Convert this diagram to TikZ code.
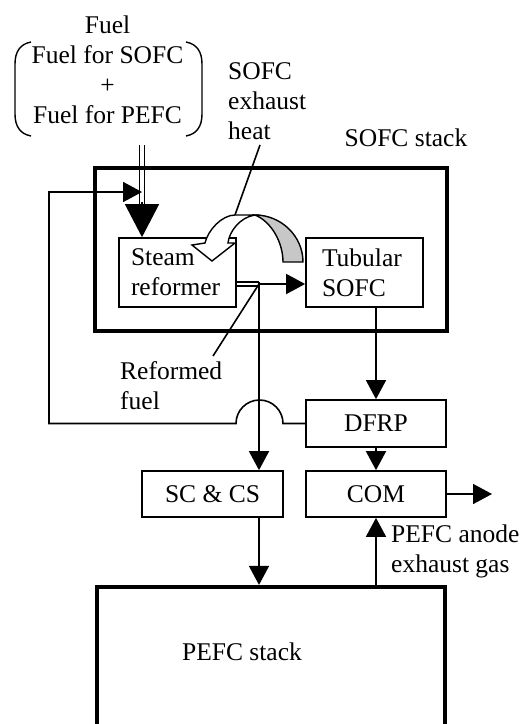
\documentclass[tikz,border=0pt]{standalone}
\usepackage{fontspec}
\setmainfont{Liberation Serif}
\usetikzlibrary{arrows.meta}
\begin{document}
\begin{tikzpicture}[x=1pt,y=1pt,
  every node/.style={font=\fontsize{25.5}{30}\selectfont, inner sep=0pt},
  ln/.style={line width=1.6pt},
  box/.style={draw, line width=1.7pt, rectangle, inner sep=0pt},
  stackbox/.style={draw, line width=4.2pt, rectangle, inner sep=0pt},
  arr/.style={line width=1.6pt, -{Triangle[length=19pt,width=20pt]}},
  bigarr/.style={line width=1.6pt, -{Triangle[length=33pt,width=34pt]}},
]
\useasboundingbox (0,0) rectangle (523,-724);

% fuel inlet (double line), drawn first
\coordinate (fueltop) at (142,-145);
\coordinate (fuelmid) at (142,-204);
\draw[ln] ([xshift=-2.6pt]fueltop) -- ([xshift=-2.6pt]fuelmid);
\draw[ln] ([xshift=2.6pt]fueltop) -- ([xshift=2.6pt]fuelmid);

% stacks
\node[stackbox, minimum width=352pt, minimum height=163pt] (sofcstack) at (271,-249.5) {};
\node[stackbox, minimum width=348pt, minimum height=156pt] (pefcstack) at (271,-665) {};

% component boxes
\node[box, minimum width=117pt, minimum height=69pt, text width=93pt, align=left, inner xsep=12pt] (sr) at (177.5,-272.5) {Steam\\reformer};
\node[box, minimum width=117pt, minimum height=69pt, text width=85pt, align=left, inner xsep=16pt] (ts) at (364.5,-272.5) {Tubular\\SOFC};
\node[box, minimum width=140pt, minimum height=47pt] (dfrp) at (376,-423.5) {DFRP};
\node[box, minimum width=140pt, minimum height=46pt] (com) at (376,-494) {COM};
\node[box, minimum width=141pt, minimum height=46pt] (scs) at (212.5,-494) {SC \& CS};

% labels
\node[align=center] (fuel) at (107.5,-70) {Fuel\\Fuel for SOFC\\+\\Fuel for PEFC};
\node[align=left, anchor=west] (heat) at (228,-101) {SOFC\\exhaust\\heat};
\node (sofclabel) at (406,-138) {SOFC stack};
\node[align=left, anchor=west] (reflabel) at (120,-386) {Reformed\\fuel};
\node[align=left, anchor=west] (anodelabel) at (391,-551) {PEFC anode\\exhaust gas};
\node (pefclabel) at (242,-652) {PEFC stack};

% parentheses around fuel
\draw[line width=1.4pt] (31,-42) .. controls (20,-44) and (15,-52) .. (15,-64) -- (15,-114) .. controls (15,-126) and (20,-134) .. (31,-136);
\draw[line width=1.4pt] (186,-42) .. controls (197,-44) and (202,-52) .. (202,-64) -- (202,-114) .. controls (202,-126) and (197,-134) .. (186,-136);

% fuel arrow into steam reformer
\draw[bigarr] ([yshift=2pt]fuelmid) -- (sr.north -| fueltop);

% reformed fuel
\coordinate (rf) at (259,-284);
\draw[ln] (sr.east |- 0,-282) -- (259,-282);
\draw[ln] (sr.east |- 0,-286) -- (259,-286);
\draw[arr] (rf) -- (ts.west |- rf);
\draw[arr] ([yshift=2pt]rf) -- (rf |- scs.north);
\coordinate (rflead) at (213,-356);
\draw[ln] (rf) -- (rflead);

% SOFC to DFRP to COM
\draw[arr] (dfrp |- ts.south) -- (dfrp.north);
\draw[arr] (dfrp.south) -- (com.north);
\coordinate (exhaust) at (492,-494);
\draw[arr] (com.east) -- (exhaust);
\draw[arr] (com |- pefcstack.north) -- (com.south);
\draw[arr] (scs.south -| rf) -- (rf |- pefcstack.north);

% DFRP recycle line with hop
\coordinate (hopR) at (283,-423.5);
\coordinate (fbleft) at (49,-192);
\coordinate (fbtip) at (142,-192);
\draw[arr] (dfrp.west) -- (hopR) arc[start angle=0, end angle=180, radius=23.5pt] -- (fbleft |- dfrp.west) -- (fbleft) -- (fbtip);

% exhaust heat curved arrow
\filldraw[fill=white, line width=1.4pt] (255,-215) -- (235,-215) .. controls (222,-215) and (208,-230) .. (205,-243) -- (192,-245) -- (212,-261) -- (235,-243) -- (228,-243) .. controls (229,-232) and (240,-217) .. (255,-215) -- cycle;
\filldraw[fill=black!22, line width=1.4pt] (255,-215) .. controls (281,-215) and (303,-236) .. (303,-262) -- (283,-262) .. controls (283,-243) and (272,-222) .. (255,-215) -- cycle;
\coordinate (heatlead) at (260,-145);
\draw[ln] (heatlead) -- (235,-215);
\end{tikzpicture}
\end{document}
